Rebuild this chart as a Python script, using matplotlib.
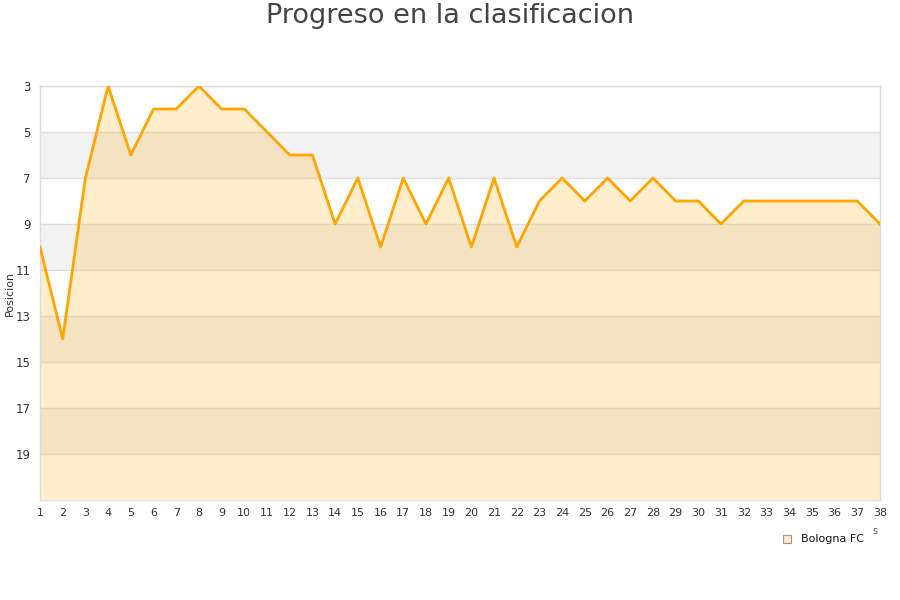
import matplotlib
matplotlib.use("Agg")
import matplotlib.pyplot as plt
from matplotlib.patches import Rectangle

jornadas = list(range(1, 39))
posiciones = [10, 14, 7, 3, 6, 4, 4, 3, 4, 4, 5, 6, 6, 9, 7, 10, 7, 9, 7, 10,
              7, 10, 8, 7, 8, 7, 8, 7, 8, 8, 9, 8, 8, 8, 8, 8, 8, 9]
y_ticks = [3, 5, 7, 9, 11, 13, 15, 17, 19]
band_starts = [5, 9, 13, 17]
equipo = "Bologna FC"
titulo = "Progreso en la clasificacion"

fig = plt.figure(figsize=(9, 6), dpi=100)
ax = fig.add_axes([40/900, 1-500/600, 840/900, 414/600])

ax.set_xlim(1, 38)
ax.set_ylim(21, 3)

for b in band_starts:
    ax.axhspan(b, b+2, color="#f2f2f2", zorder=0, lw=0)
for t in y_ticks:
    ax.axhline(t, color="#e0e0e0", lw=1, zorder=1)

ax.fill_between(jornadas, posiciones, 21, color="#ffa500", alpha=0.2, lw=0, zorder=2)
ax.plot(jornadas, posiciones, color="#ffa500", lw=2, zorder=3)

ax.set_xticks(jornadas)
ax.set_yticks(y_ticks)
ax.tick_params(axis="both", length=0, labelsize=8, colors="#333333", pad=6)
ax.tick_params(axis="y", pad=6.5, labelsize=8.5)
for s in ax.spines.values():
    s.set_color("#dddddd")
    s.set_linewidth(1)

fig.text(10/900, 1-293/600, "Posicion", rotation=90, ha="center", va="center",
         fontsize=8, color="#333333")

fig.text(0.5, 1-16/600, titulo, ha="center", va="center", fontsize=19.5, color="#444444")

# legend
fig.patches.append(Rectangle((783/900, 1-543/600), 8/900, 8/600, transform=fig.transFigure,
                             facecolor="#ffe9c0", edgecolor="#999999", lw=0.8))
fig.text(801/900, 1-539/600, equipo, ha="left", va="center", fontsize=8, color="#111111")
fig.text(875/900, 1-531/600, "s", ha="center", va="center", fontsize=7, color="#555555")

fig.savefig("out.png", dpi=100)
